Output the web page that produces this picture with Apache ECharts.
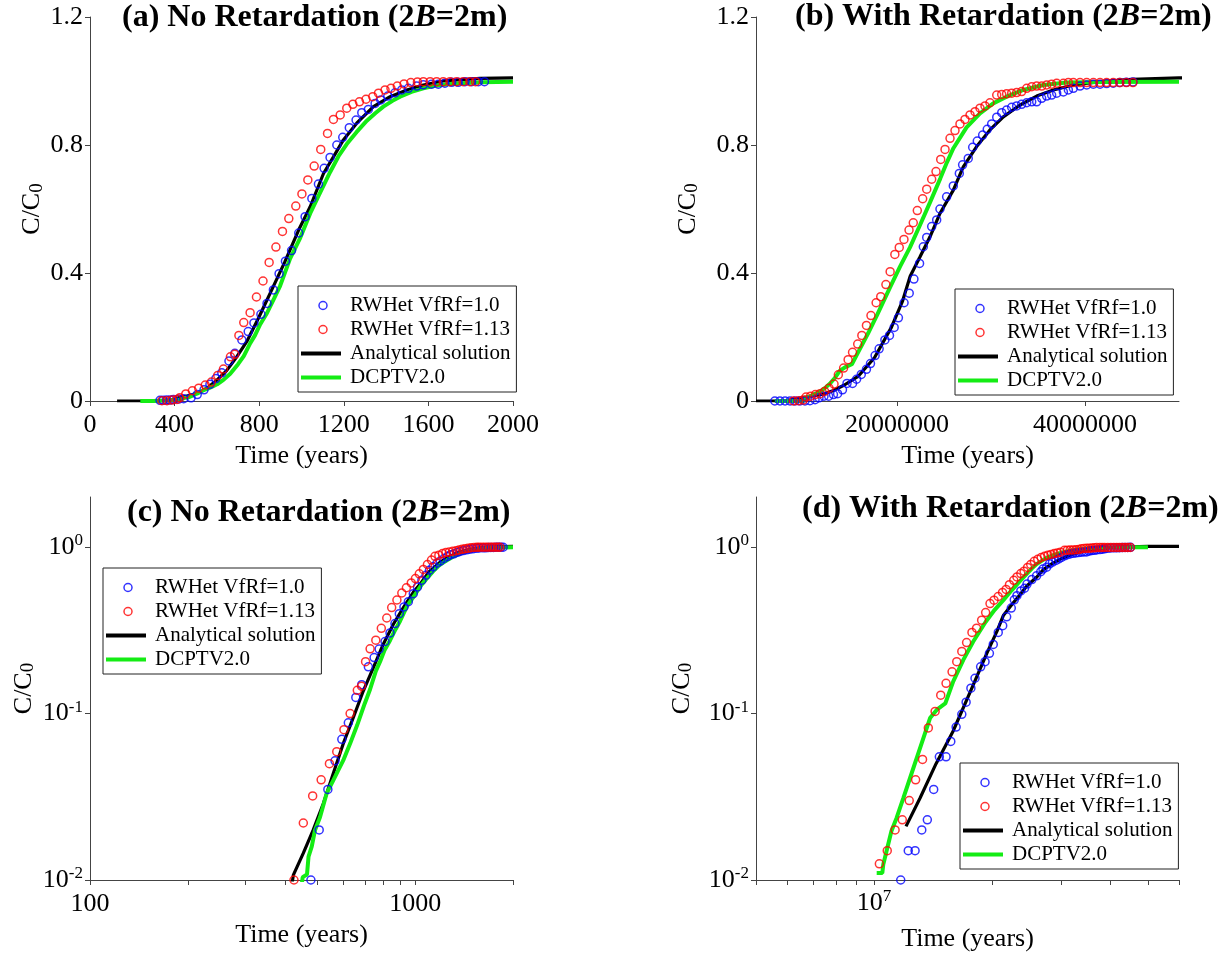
<!DOCTYPE html>
<html>
<head>
<meta charset="utf-8">
<script src="https://cdn.jsdelivr.net/npm/echarts@6.0.0/dist/echarts.min.js"></script>
<style>
html,body{margin:0;padding:0;background:#fff;}
#chart{width:1230px;height:955px;}
</style>
</head>
<body>
<div id="chart"></div>
<script>
// ---------------- DATA (time in years, C/C0) ----------------
// Series names
const N_BLUE = 'RWHet VfRf=1.0';
const N_RED = 'RWHet VfRf=1.13';
const N_ANA = 'Analytical solution';
const N_DCP = 'DCPTV2.0';

// Panel titles
const TITLE_A = ['(a) No Retardation (2', 'B', '=2m)'];
const TITLE_B = ['(b) With Retardation (2', 'B', '=2m)'];
const TITLE_C = ['(c) No Retardation (2', 'B', '=2m)'];
const TITLE_D = ['(d) With Retardation (2', 'B', '=2m)'];

// Tick values
const TICKS_A_X = [0, 400, 800, 1200, 1600, 2000];
const TICKS_LIN_Y = [0, 0.4, 0.8, 1.2];
const TICKS_B_X = [20000000, 40000000];
const LABELS_C_X = [100, 1000];
const TICKS_C_X = [100, 200, 300, 400, 500, 600, 700, 800, 900, 1000, 2000];
const LABELS_D_X = [10000000];
const TICKS_D_X = [5e6, 6e6, 7e6, 8e6, 9e6, 1e7, 2e7, 3e7, 4e7, 5e7, 6e7];
const TICKS_LOG_Y = [0.01, 0.1, 1];

// No retardation (panels a and c)
const anaNoRet = [[128,0],[250,0],[350,0.001],[400,0.005],[422,0.0107],[453,0.0145],[486,0.02],[522,0.0288],[560,0.0436],[601,0.0659],[646,0.095],[693,0.137],[744,0.189],[798,0.261],[857,0.344],[920,0.433],[987,0.535],[1041,0.607],[1104,0.711],[1151,0.763],[1198,0.816],[1261,0.868],[1340,0.92],[1419,0.951],[1498,0.972],[1576,0.9875],[1670,1.0],[1844,1.008],[2000,1.01]];
const dcpNoRet = [[238,0],[300,0],[380,0.002],[430,0.005],[451,0.0104],[465,0.0108],[470,0.0138],[481,0.0159],[492,0.0199],[510,0.0239],[534,0.033],[560,0.0397],[580,0.0455],[601,0.0523],[631,0.066],[663,0.085],[700,0.115],[727,0.14],[757,0.18],[780,0.205],[805,0.24],[837,0.275],[870,0.32],[899,0.36],[946,0.445],[994,0.51],[1041,0.586],[1080,0.64],[1135,0.715],[1175,0.765],[1214,0.803],[1260,0.84],[1309,0.876],[1350,0.9],[1387,0.92],[1430,0.938],[1466,0.951],[1520,0.966],[1576,0.977],[1630,0.985],[1686,0.99],[1750,0.993],[1850,0.996],[2000,0.998]];
const blueNoRet = [[331,0.002],[346,0.002],[362,0.003],[378,0.003],[395,0.005],[419,0.006],[443,0.007],[478,0.01],[507,0.02],[539,0.035],[567,0.052],[595,0.07],[623,0.088],[657,0.125],[685,0.149],[718,0.191],[748,0.217],[775,0.244],[808,0.271],[837,0.305],[867,0.347],[894,0.398],[924,0.437],[953,0.47],[987,0.525],[1017,0.576],[1049,0.633],[1080,0.678],[1107,0.727],[1135,0.761],[1167,0.8],[1195,0.824],[1226,0.854],[1258,0.878],[1285,0.901],[1316,0.911],[1348,0.93],[1375,0.941],[1408,0.953],[1442,0.963],[1474,0.972],[1505,0.977],[1545,0.984],[1576,0.988],[1615,0.99],[1647,0.99],[1678,0.993],[1710,0.996],[1741,0.996],[1773,0.998],[1804,0.998],[1836,0.998],[1865,0.998]];
const redNoRet = [[340,0.001],[364,0.001],[388,0.003],[411,0.005],[424,0.01],[453,0.022],[484,0.032],[514,0.04],[545,0.05],[574,0.059],[604,0.08],[631,0.1],[664,0.138],[684,0.146],[704,0.205],[727,0.245],[757,0.276],[787,0.325],[818,0.375],[847,0.433],[879,0.481],[910,0.53],[940,0.57],[973,0.609],[1002,0.647],[1030,0.691],[1060,0.734],[1091,0.786],[1123,0.836],[1151,0.88],[1183,0.894],[1214,0.915],[1243,0.927],[1274,0.935],[1305,0.943],[1337,0.951],[1364,0.962],[1395,0.972],[1423,0.977],[1453,0.984],[1485,0.991],[1517,0.995],[1548,0.997],[1576,0.998],[1608,0.998],[1639,0.998],[1670,0.998],[1702,0.998],[1733,0.998],[1764,0.998],[1796,0.998],[1823,0.998]];

// With retardation (panels b and d)
const anaRet = [[5e6,0],[8e6,0],[12.07e6,0.021],[13.1e6,0.031],[14.4e6,0.05],[15.9e6,0.078],[17.6e6,0.135],[19.4e6,0.23],[20.6e6,0.313],[21.4e6,0.39],[22.45e6,0.451],[23.51e6,0.513],[24.57e6,0.586],[25.99e6,0.659],[27.05e6,0.732],[28.47e6,0.795],[29.89e6,0.847],[31.31e6,0.888],[33.09e6,0.925],[34.86e6,0.953],[36.63e6,0.972],[38.76e6,0.9875],[41.6e6,0.998],[45e6,1.005],[50e6,1.01],[60e6,1.01]];
const dcpRet = [[7e6,0],[9e6,0],[10.1e6,0],[10.16e6,0.011],[10.5e6,0.011],[10.56e6,0.0124],[10.77e6,0.015],[11.08e6,0.0197],[11.42e6,0.0236],[11.88e6,0.031],[12.36e6,0.041],[12.85e6,0.054],[13.36e6,0.071],[13.9e6,0.094],[14.5e6,0.106],[15.2e6,0.115],[15.93e6,0.156],[16.9e6,0.21],[17.9e6,0.27],[19.26e6,0.355],[20.32e6,0.42],[21.38e6,0.48],[22.45e6,0.55],[23.5e6,0.62],[24.6e6,0.695],[25.3e6,0.745],[26e6,0.79],[27.4e6,0.855],[28.83e6,0.899],[30.24e6,0.93],[31.66e6,0.951],[33.43e6,0.972],[35.56e6,0.9875],[38.05e6,0.995],[42e6,0.997],[50e6,0.998]];
const blueRet = [[7.0e6,0],[7.55e6,0],[8.09e6,0],[8.62e6,0],[9.15e6,0],[9.68e6,0],[10.21e6,0],[10.74e6,0.001],[11.28e6,0.004],[11.7e6,0.01],[12.23e6,0.015],[12.73e6,0.015],[13.24e6,0.02],[13.68e6,0.023],[14.2e6,0.035],[14.68e6,0.055],[15.27e6,0.055],[15.7e6,0.068],[16.2e6,0.083],[16.75e6,0.099],[17.18e6,0.117],[17.67e6,0.142],[18.1e6,0.163],[18.71e6,0.191],[19.2e6,0.205],[19.7e6,0.23],[20.15e6,0.26],[20.75e6,0.307],[21.3e6,0.337],[21.8e6,0.381],[22.4e6,0.43],[22.8e6,0.482],[23.16e6,0.511],[23.69e6,0.545],[24.22e6,0.566],[24.57e6,0.6],[25.28e6,0.638],[25.99e6,0.672],[26.63e6,0.711],[26.98e6,0.738],[27.58e6,0.758],[28.05e6,0.793],[28.54e6,0.8125],[29.11e6,0.831],[29.6e6,0.849],[30.07e6,0.866],[30.61e6,0.887],[31.14e6,0.901],[31.66e6,0.909],[32.2e6,0.918],[32.73e6,0.922],[33.26e6,0.927],[33.8e6,0.932],[34.33e6,0.935],[34.86e6,0.935],[35.39e6,0.946],[35.92e6,0.953],[36.45e6,0.956],[36.99e6,0.962],[37.7e6,0.966],[38.23e6,0.972],[38.76e6,0.977],[39.47e6,0.984],[40.18e6,0.9875],[40.89e6,0.99],[41.6e6,0.99],[42.3e6,0.992],[43.0e6,0.993],[43.7e6,0.995],[44.4e6,0.996],[45.1e6,0.997]];
const redRet = [[8.97e6,0],[9.5e6,0.001],[10.03e6,0.003],[10.32e6,0.0125],[10.81e6,0.015],[11.32e6,0.02],[11.81e6,0.023],[12.3e6,0.03],[12.77e6,0.04],[13.3e6,0.053],[13.76e6,0.082],[14.32e6,0.103],[14.8e6,0.129],[15.27e6,0.152],[15.82e6,0.178],[16.26e6,0.205],[16.75e6,0.236],[17.23e6,0.267],[17.78e6,0.307],[18.27e6,0.326],[18.82e6,0.364],[19.27e6,0.404],[19.77e6,0.458],[20.24e6,0.48],[20.74e6,0.505],[21.28e6,0.534],[21.73e6,0.557],[22.16e6,0.595],[22.73e6,0.632],[23.16e6,0.662],[23.69e6,0.693],[24.15e6,0.717],[24.65e6,0.755],[25.11e6,0.786],[25.64e6,0.821],[26.17e6,0.845],[26.7e6,0.866],[27.23e6,0.88],[27.77e6,0.894],[28.3e6,0.904],[28.83e6,0.915],[29.36e6,0.922],[29.89e6,0.932],[30.61e6,0.956],[31.14e6,0.958],[31.66e6,0.96],[32.2e6,0.962],[32.73e6,0.964],[33.26e6,0.967],[33.8e6,0.977],[34.33e6,0.982],[34.86e6,0.984],[35.39e6,0.984],[35.92e6,0.9875],[36.45e6,0.99],[36.99e6,0.993],[37.7e6,0.993],[38.23e6,0.995],[38.76e6,0.995],[39.47e6,0.995],[40.18e6,0.995],[40.89e6,0.995],[41.6e6,0.995],[42.3e6,0.995],[43.0e6,0.995],[43.7e6,0.995],[44.4e6,0.995],[45.1e6,0.995]];

// ---------------- STYLE ----------------
const FONT = 'Liberation Serif';
const BLUE = '#0000ff', RED = '#ff0000', BLACK = '#000000', GREEN = '#14ec14';
const AXIS_COLOR = '#444';
const LINE_ICON = 'path://M0,0L0,0M0,2h40v4h-40zM44,8L44,8';

const chart = echarts.init(document.getElementById('chart'), null, {renderer: 'canvas'});

function supLabel(v) {
  const e = Math.round(Math.log10(v));
  return '{b|10}{s|' + e + '}';
}
const supRich = {
  b: {fontFamily: FONT, fontSize: 26, lineHeight: 30, color: '#000'},
  s: {fontFamily: FONT, fontSize: 17, lineHeight: 14, verticalAlign: 'top', color: '#000'}
};
const nameRich = {
  m: {fontFamily: FONT, fontSize: 26, lineHeight: 28, color: '#000'},
  s: {fontFamily: FONT, fontSize: 19, lineHeight: 16, verticalAlign: 'bottom', color: '#000'}
};

function baseAxis(extra) {
  const a = {
    axisLine: {show: true, onZero: false, lineStyle: {color: AXIS_COLOR, width: 1}},
    axisTick: {show: true, inside: false, length: 5, lineStyle: {color: AXIS_COLOR, width: 1}},
    splitLine: {show: false},
    minorTick: {show: false},
    axisLabel: {color: '#000', fontFamily: FONT, fontSize: 26}
  };
  for (const k in extra) {
    if (typeof extra[k] === 'object' && !Array.isArray(extra[k]) && a[k]) {
      a[k] = Object.assign({}, a[k], extra[k]);
    } else {
      a[k] = extra[k];
    }
  }
  return a;
}

function xName(gap) {
  return {name: 'Time (years)', nameLocation: 'middle', nameGap: gap,
    nameTextStyle: {fontFamily: FONT, fontSize: 26, color: '#000'}};
}
function yName(gap) {
  return {name: '{m|C/C}{s|0}', nameLocation: 'middle', nameGap: gap, nameRotate: 90,
    nameTextStyle: {rich: nameRich}};
}
const plain = v => String(Math.round(v * 1000) / 1000);

const xAxes = [
  baseAxis(Object.assign({gridIndex: 0, type: 'value', min: 0, max: 2000, interval: 400,
    axisLabel: {margin: 11, customValues: TICKS_A_X, formatter: plain}, axisTick: {customValues: TICKS_A_X}}, xName(42))),
  baseAxis(Object.assign({gridIndex: 1, type: 'value', min: 5e6, max: 5e7,
    axisLabel: {margin: 11, customValues: TICKS_B_X, formatter: plain},
    axisTick: {customValues: TICKS_B_X}}, xName(42))),
  baseAxis(Object.assign({gridIndex: 2, type: 'log', logBase: 10, min: 100, max: 2000,
    axisLabel: {margin: 11, customValues: LABELS_C_X, formatter: plain},
    axisTick: {customValues: TICKS_C_X}}, xName(42))),
  baseAxis(Object.assign({gridIndex: 3, type: 'log', logBase: 10, min: 5e6, max: 6e7,
    axisLabel: {margin: 8, customValues: LABELS_D_X, formatter: supLabel, rich: supRich},
    axisTick: {customValues: TICKS_D_X}}, xName(46)))
];

const yAxes = [
  baseAxis(Object.assign({gridIndex: 0, type: 'value', min: 0, max: 1.2, interval: 0.4,
    axisLabel: {margin: 7, customValues: TICKS_LIN_Y, formatter: plain}, axisTick: {customValues: TICKS_LIN_Y}}, yName(42))),
  baseAxis(Object.assign({gridIndex: 1, type: 'value', min: 0, max: 1.2, interval: 0.4,
    axisLabel: {margin: 7, customValues: TICKS_LIN_Y, formatter: plain}, axisTick: {customValues: TICKS_LIN_Y}}, yName(54))),
  baseAxis(Object.assign({gridIndex: 2, type: 'log', logBase: 10, min: 0.01, max: 2,
    axisLabel: {margin: 7, customValues: TICKS_LOG_Y, formatter: supLabel, rich: supRich},
    axisTick: {customValues: TICKS_LOG_Y}}, yName(52))),
  baseAxis(Object.assign({gridIndex: 3, type: 'log', logBase: 10, min: 0.01, max: 2,
    axisLabel: {margin: 7, customValues: TICKS_LOG_Y, formatter: supLabel, rich: supRich},
    axisTick: {customValues: TICKS_LOG_Y}}, yName(60)))
];

function panelSeries(i, ana, dcp, blue, red, isLog) {
  const f = d => isLog ? d.filter(p => p[1] > 0) : d;
  return [
    {type: 'line', name: N_ANA, xAxisIndex: i, yAxisIndex: i, data: f(ana), symbol: 'none', showSymbol: false,
      lineStyle: {color: BLACK, width: 3.2}, itemStyle: {color: BLACK}, clip: true, z: 2},
    {type: 'line', name: N_DCP, xAxisIndex: i, yAxisIndex: i, data: f(dcp), symbol: 'none', showSymbol: false,
      lineStyle: {color: GREEN, width: 4}, itemStyle: {color: GREEN}, clip: true, z: 3},
    {type: 'scatter', name: N_BLUE, xAxisIndex: i, yAxisIndex: i, data: f(blue), symbol: 'circle', symbolSize: 8,
      itemStyle: {color: 'rgba(0,0,0,0)', borderColor: BLUE, borderWidth: 1.5}, clip: true, z: 4},
    {type: 'scatter', name: N_RED, xAxisIndex: i, yAxisIndex: i, data: f(red), symbol: 'circle', symbolSize: 8,
      itemStyle: {color: 'rgba(0,0,0,0)', borderColor: RED, borderWidth: 1.5}, clip: true, z: 5}
  ];
}

function legendAt(left, top) {
  return {
    orient: 'vertical', left: left, top: top,
    padding: [9, 6, 4, 3], itemGap: 3,
    itemWidth: 44, itemHeight: 8,
    borderColor: '#222', borderWidth: 1, backgroundColor: '#fff',
    selectedMode: false,
    textStyle: {fontFamily: FONT, fontSize: 21, color: '#000'},
    data: [
      {name: N_BLUE, icon: 'circle', itemStyle: {color: 'rgba(0,0,0,0)', borderColor: BLUE, borderWidth: 1.5}},
      {name: N_RED, icon: 'circle', itemStyle: {color: 'rgba(0,0,0,0)', borderColor: RED, borderWidth: 1.5}},
      {name: N_ANA, icon: LINE_ICON, itemStyle: {color: BLACK, borderWidth: 0}},
      {name: N_DCP, icon: LINE_ICON, itemStyle: {color: GREEN, borderWidth: 0}}
    ]
  };
}

function titleAt(parts, left, top) {
  return {
    text: '{n|' + parts[0] + '}{i|' + parts[1] + '}{n|' + parts[2] + '}',
    left: left, top: top, padding: 0,
    textStyle: {rich: {
      n: {fontFamily: FONT, fontWeight: 'bold', fontSize: 32, color: '#000'},
      i: {fontFamily: FONT, fontWeight: 'bold', fontStyle: 'italic', fontSize: 32, color: '#000'}
    }}
  };
}

const option = {
  animation: false,
  backgroundColor: '#fff',
  textStyle: {fontFamily: FONT},
  title: [
    titleAt(TITLE_A, 122, 2),
    titleAt(TITLE_B, 795, 1),
    titleAt(TITLE_C, 127, 497),
    titleAt(TITLE_D, 802, 493)
  ],
  grid: [
    {left: 90, top: 17, width: 423, height: 384},
    {left: 756, top: 17, width: 423, height: 384},
    {left: 90, top: 497, width: 423, height: 383},
    {left: 756, top: 497, width: 423, height: 383}
  ],
  xAxis: xAxes,
  yAxis: yAxes,
  legend: [
    legendAt(298, 286),
    legendAt(955, 289),
    legendAt(103, 568),
    legendAt(960, 763)
  ],
  series: [].concat(
    panelSeries(0, anaNoRet, dcpNoRet, blueNoRet, redNoRet, false),
    panelSeries(1, anaRet, dcpRet, blueRet, redRet, false),
    panelSeries(2, anaNoRet, dcpNoRet, blueNoRet, redNoRet, true),
    panelSeries(3, anaRet, dcpRet, blueRet, redRet, true)
  )
};
chart.setOption(option);
</script>
</body>
</html>
